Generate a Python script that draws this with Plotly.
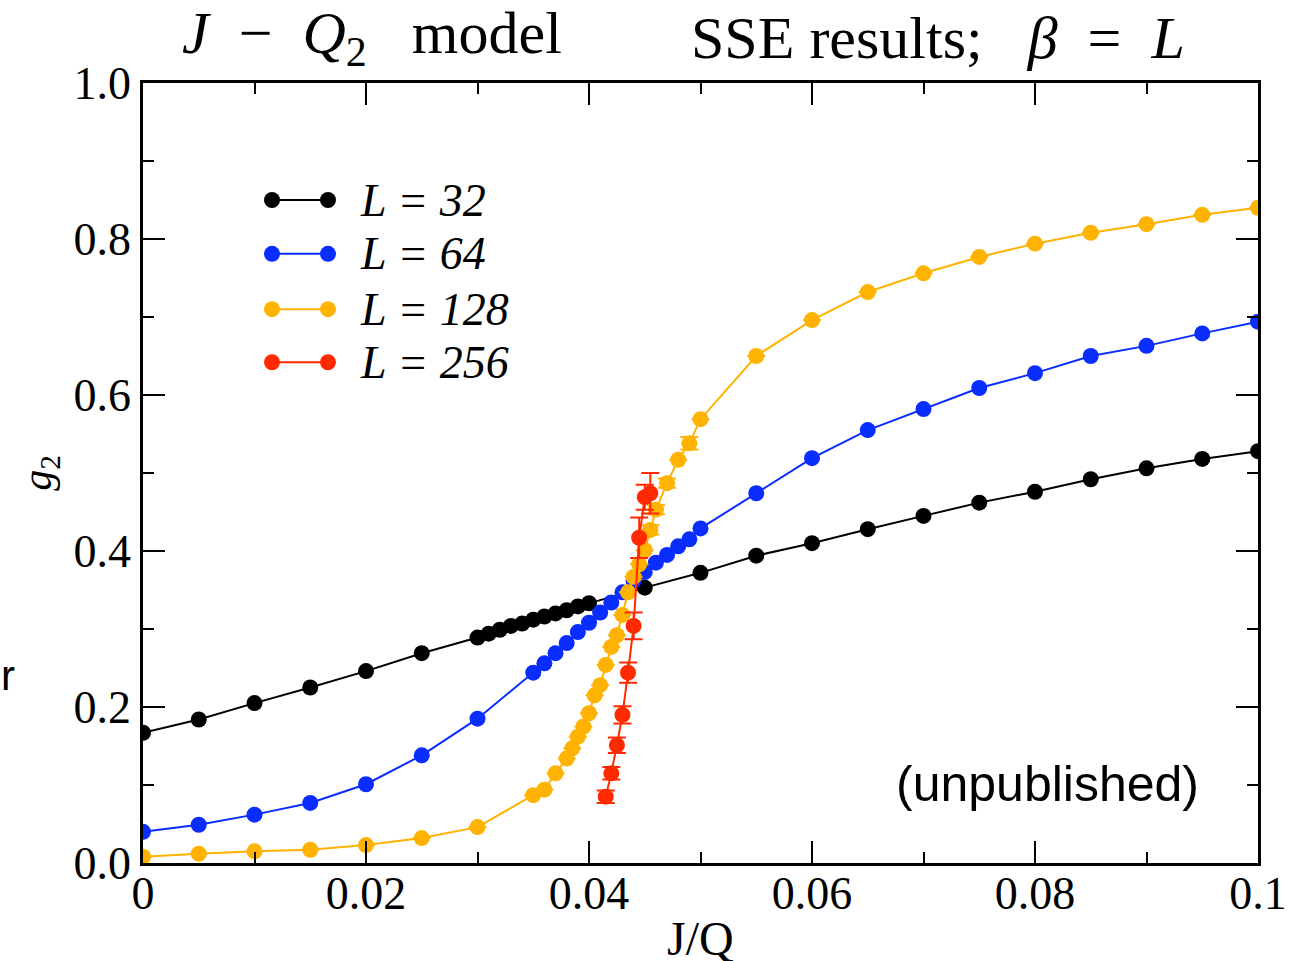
import plotly.graph_objects as go

# ---------------- data ----------------
x32 = [0, 0.005, 0.01, 0.015, 0.02, 0.025, 0.03, 0.031, 0.032, 0.033, 0.034, 0.035,
       0.036, 0.037, 0.038, 0.039, 0.04, 0.045, 0.05, 0.055, 0.06, 0.065, 0.07, 0.075,
       0.08, 0.085, 0.09, 0.095, 0.1]
y32 = [0.167, 0.184, 0.205, 0.225, 0.246, 0.269, 0.289, 0.294, 0.299, 0.304, 0.307, 0.312,
       0.316, 0.320, 0.324, 0.329, 0.333, 0.353, 0.372, 0.394, 0.410, 0.428, 0.445, 0.462,
       0.476, 0.492, 0.506, 0.518, 0.528]

x64 = [0, 0.005, 0.01, 0.015, 0.02, 0.025, 0.03, 0.035, 0.036, 0.037, 0.038, 0.039,
       0.04, 0.041, 0.042, 0.043, 0.044, 0.045, 0.046, 0.047, 0.048, 0.049, 0.05,
       0.055, 0.06, 0.065, 0.07, 0.075, 0.08, 0.085, 0.09, 0.095, 0.1]
y64 = [0.040, 0.049, 0.062, 0.077, 0.101, 0.138, 0.185, 0.244, 0.256, 0.269, 0.282, 0.296,
       0.308, 0.321, 0.334, 0.347, 0.362, 0.373, 0.385, 0.395, 0.406, 0.415, 0.429,
       0.474, 0.519, 0.555, 0.582, 0.609, 0.628, 0.650, 0.663, 0.679, 0.694]

x128 = [0, 0.005, 0.01, 0.015, 0.02, 0.025, 0.03, 0.035, 0.036, 0.037, 0.038, 0.0385,
        0.039, 0.0395, 0.04, 0.0405, 0.041, 0.0415, 0.042, 0.0425, 0.043, 0.0435, 0.044,
        0.0445, 0.045, 0.0455, 0.046, 0.047, 0.048, 0.049, 0.05, 0.055, 0.06, 0.065,
        0.07, 0.075, 0.08, 0.085, 0.09, 0.095, 0.1]
y128 = [0.008, 0.012, 0.015, 0.017, 0.023, 0.032, 0.046, 0.087, 0.094, 0.115, 0.134, 0.147,
        0.162, 0.175, 0.192, 0.215, 0.228, 0.254, 0.277, 0.292, 0.318, 0.347, 0.367,
        0.383, 0.401, 0.427, 0.453, 0.487, 0.517, 0.538, 0.569, 0.650, 0.696, 0.732,
        0.756, 0.777, 0.794, 0.808, 0.819, 0.831, 0.840]
e128 = [0, 0, 0, 0, 0, 0, 0, 0, 0, 0, 0, 0,
        0, 0, 0, 0, 0, 0, 0, 0, 0, 0, 0,
        0, 0, 0.006, 0.006, 0.006, 0, 0.008, 0, 0, 0, 0,
        0, 0, 0, 0, 0, 0, 0]

x256 = [0.0415, 0.042, 0.0425, 0.043, 0.0435, 0.044, 0.0445, 0.045, 0.0455]
y256 = [0.085, 0.115, 0.151, 0.190, 0.244, 0.304, 0.417, 0.469, 0.474]
e256 = [0.008, 0.008, 0.010, 0.011, 0.013, 0.017, 0.026, 0.016, 0.026]

labels = ["L = 32", "L = 64", "L = 128", "L = 256"]
colors = ["#000000", "#0a2dff", "#ffb300", "#ff2a00"]

SERIF = "Liberation Serif, Times New Roman, serif"
SANS = "Liberation Sans, Arial, sans-serif"
NB = "\u00a0"

fig = go.Figure()

series = [(x32, y32, None), (x64, y64, None), (x128, y128, e128), (x256, y256, e256)]
for (xs, ys, es), c, lab in zip(series, colors, labels):
    kw = {}
    if es is not None:
        kw["error_y"] = dict(type="data", array=es, visible=True, color=c,
                             thickness=2, width=9)
    fig.add_trace(go.Scatter(x=xs, y=ys, mode="lines+markers", name=lab,
                             line=dict(color=c, width=2),
                             marker=dict(color=c, size=16, line=dict(width=0)),
                             showlegend=False, **kw))

# legend samples drawn on a hidden overlay axis (0..1 in both directions)
leg_x0, leg_x1 = 0.1157, 0.1659
leg_y = [0.850, 0.781, 0.710, 0.642]
for c, lab, ly in zip(colors, labels, leg_y):
    fig.add_trace(go.Scatter(x=[leg_x0, leg_x1], y=[ly, ly], mode="lines+markers",
                             line=dict(color=c, width=2),
                             marker=dict(color=c, size=16),
                             xaxis="x2", yaxis="y2", showlegend=False,
                             hoverinfo="skip"))
    fig.add_annotation(x=0.1928, y=ly, xref="paper", yref="paper", xanchor="left",
                       yanchor="middle", showarrow=False,
                       text="<i>" + lab + "</i>",
                       font=dict(family=SERIF, size=46, color="black"))

axis_common = dict(showgrid=False, zeroline=False, showline=True, linecolor="black",
                   linewidth=2.5, mirror="ticks", ticks="inside", ticklen=22,
                   tickwidth=2, tickcolor="black",
                   tickfont=dict(family=SERIF, size=46, color="black"))

fig.update_layout(
    width=1300, height=961,
    margin=dict(l=143, r=42, t=83, b=98),
    paper_bgcolor="white", plot_bgcolor="white",
    xaxis=dict(range=[0, 0.1], dtick=0.02, tick0=0, ticklabelstandoff=-12,
               minor=dict(dtick=0.01, ticklen=11, tickwidth=2, ticks="inside",
                          tickcolor="black"),
               **axis_common),
    yaxis=dict(range=[0, 1], dtick=0.2, tick0=0, tickformat=".1f",
               minor=dict(dtick=0.1, ticklen=11, tickwidth=2, ticks="inside",
                          tickcolor="black"),
               **axis_common),
    xaxis2=dict(range=[0, 1], overlaying="x", visible=False),
    yaxis2=dict(range=[0, 1], overlaying="y", visible=False),
)

def note(x, y, text, family, size, angle=0):
    fig.add_annotation(x=x, y=y, xref="paper", yref="paper", showarrow=False,
                       xanchor="center", yanchor="middle", text=text,
                       textangle=angle,
                       font=dict(family=family, size=size, color="black"))

# titles and texts
note(0.2054, 1.058,
     "<i>J</i>" + NB * 2 + "−" + NB * 2 + "<i>Q</i><sub>2</sub>" + NB * 3 + "model",
     SERIF, 60)
note(0.7130, 1.058,
     "SSE" + NB + "results;" + NB * 3 + "<i>β</i>" + NB * 2 + "=" + NB * 2 + "<i>L</i>",
     SERIF, 60)
note(0.5, -0.0962, "J/Q", SERIF, 48)
note(-0.092, 0.501, "<i>g</i><sub>2</sub>", SERIF, 42, -90)
note(0.8108, 0.1013, "(unpublished)", SANS, 50)
note(-0.1215, 0.241, "r", SANS, 42)

fig.write_html("out.html")
